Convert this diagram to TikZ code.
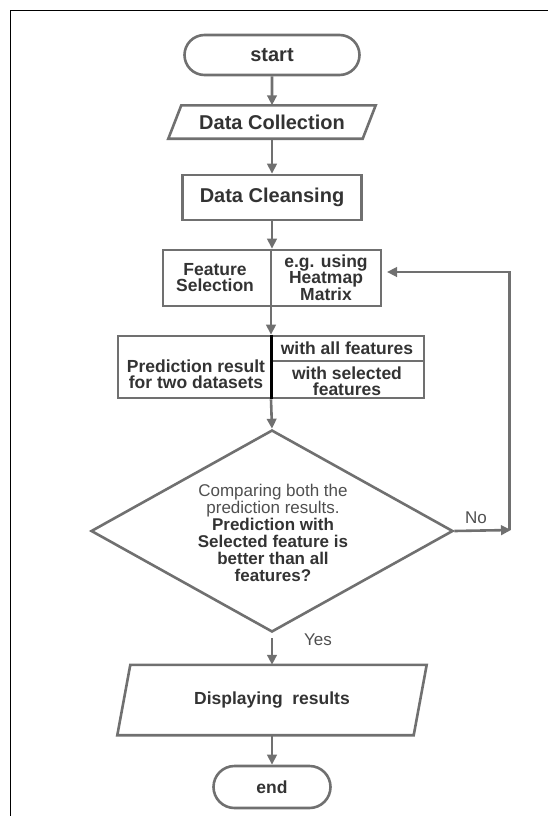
\documentclass[tikz,border=0pt]{standalone}
\usepackage{fontspec}
\setmainfont{Liberation Sans}
\usetikzlibrary{shapes.geometric,shapes.misc,arrows.meta,calc}
\definecolor{edge}{HTML}{707070}
\definecolor{ink}{HTML}{333333}
\definecolor{soft}{HTML}{4f4f4f}

\begin{document}
\begin{tikzpicture}[x=1pt,y=-1pt,
  outline/.style={draw=edge, line width=2.6pt},
  label/.style={text=ink, inner sep=0pt, align=center, font=\fontsize{17.5}{16}\selectfont\bfseries},
  biglabel/.style={label, font=\fontsize{20}{22}\selectfont\bfseries},
  plain/.style={text=soft, inner sep=0pt, font=\fontsize{17}{17}\selectfont},
  arr/.style={draw=edge, line width=2.6pt, -{Triangle[length=10pt,width=9.5pt]}},
  terminal/.style={outline, rounded rectangle, inner sep=0pt},
]
\useasboundingbox (0,0) rectangle (548,816);

% page frame (top and left edges)
\draw[black, line width=1.6pt] (548,10.5) -- (10.5,10.5) -- (10.5,816);

% start
\node[terminal, biglabel, minimum width=175pt, minimum height=40pt] (start) at (272,55) {start};

% data collection (parallelogram)
\node[biglabel, minimum width=194pt, minimum height=33pt] (coll) at (272,122) {Data Collection};
\draw[outline] ([xshift=6.5pt]coll.north west) -- ([xshift=6.5pt]coll.north east)
  -- ([xshift=-6.5pt]coll.south east) -- ([xshift=-6.5pt]coll.south west) -- cycle;

% data cleansing
\node[outline, biglabel, minimum width=179pt, minimum height=45pt] (clean) at (272,197.5) {Data Cleansing};

% feature selection
\node[outline, minimum width=218pt, minimum height=56pt, inner sep=0pt] (feat) at (272,278) {};
\draw[outline] (feat.north -| 271,0) -- (feat.south -| 271,0);
\node[label] (featL) at (215,278) {Feature\\Selection};
\node[label] (featR) at (326,278) {e.g. using\\Heatmap\\Matrix};

% prediction results
\node[outline, minimum width=306pt, minimum height=62pt, inner sep=0pt] (pred) at (271,367) {};
\draw[outline] (271,361) -- (pred.east |- 0,361);
\draw[black, line width=3pt] (pred.north -| 271,0) -- (pred.south -| 271,0);
\node[label] (predL) at (196,374) {Prediction result\\for two datasets};
\node[label] (predA) at (347,348.5) {with all features};
\node[label] (predS) at (347,381) {with selected\\features};

% decision
\node[outline, diamond, minimum width=362pt, minimum height=202pt, inner sep=0pt] (dia) at (272,531) {};
\node[label, font=\fontsize{17}{17}\selectfont] (diaT) at (273,532.5)
  {{\mdseries\color{soft}Comparing both the}\\{\mdseries\color{soft}prediction results.}\\\bfseries Prediction with\\\bfseries Selected feature is\\\bfseries better than all\\\bfseries features?};

% displaying results (parallelogram)
\node[label, minimum width=296pt, minimum height=70pt] (disp) at (272,700) {Displaying~ results};
\draw[outline] ([xshift=6.5pt]disp.north west) -- ([xshift=6.5pt]disp.north east)
  -- ([xshift=-6.5pt]disp.south east) -- ([xshift=-6.5pt]disp.south west) -- cycle;

% end
\node[terminal, label, minimum width=117pt, minimum height=42pt] (end) at (272,787) {end};

% branch labels
\node[plain] (yes) at (318,640) {Yes};
\node[plain] (no) at (476,518) {No};

% connectors
\draw[arr] (start) -- (coll);
\draw[arr] (coll) -- (clean);
\draw[arr] (clean) -- (feat);
\draw[arr] (feat.south -| 271,0) -- (pred.north -| 271,0);
\draw[arr] (pred.south -| 271,0) -- (dia.north);
\draw[arr] ([yshift=-5pt]dia.south) -- (disp.north);
\draw[arr] (disp) -- (end);

\coordinate (turn) at (511,530);
\coordinate (back) at (387,272);
\draw[arr] (dia.east) -- (turn);
\draw[arr] ([xshift=-1.5pt]turn) |- (back);
\end{tikzpicture}
\end{document}
